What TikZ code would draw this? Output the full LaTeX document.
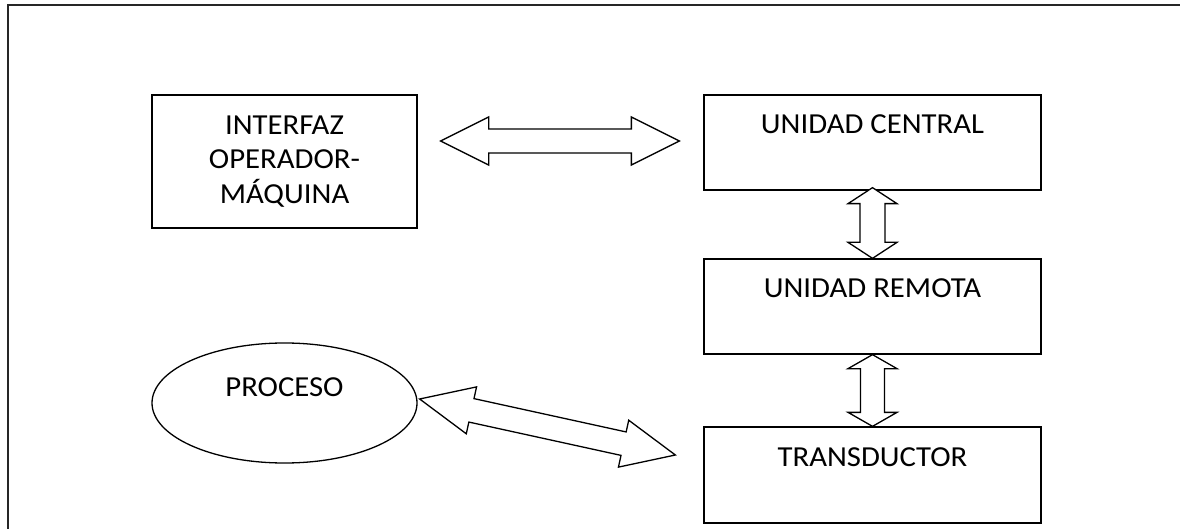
\documentclass[tikz,border=0pt]{standalone}
\usepackage{fontspec}
\setmainfont{Carlito}[FakeStretch=1.06]
\usetikzlibrary{calc,shapes.geometric}

% Double-headed block arrow between two tips:
% #1,#2 tips, #3 head length, #4 shaft half-width, #5 head half-width
\newcommand\dblblockarrow[5]{%
  \draw[blockarrow]
    (#1)
    -- ($(#1)!#3!(#2)!#5!90:(#2)$)
    -- ($(#1)!#3!(#2)!#4!90:(#2)$)
    -- ($(#2)!#3!(#1)!#4!-90:(#1)$)
    -- ($(#2)!#3!(#1)!#5!-90:(#1)$)
    -- (#2)
    -- ($(#2)!#3!(#1)!#5!90:(#1)$)
    -- ($(#2)!#3!(#1)!#4!90:(#1)$)
    -- ($(#1)!#3!(#2)!#4!-90:(#2)$)
    -- ($(#1)!#3!(#2)!#5!-90:(#2)$)
    -- cycle;}

\tikzset{
  frame/.style={draw=black!85, line width=2pt},
  block/.style={draw, line width=1.3pt, rectangle, inner sep=0pt},
  blob/.style={draw, line width=1.3pt, ellipse, inner sep=0pt},
  blockarrow/.style={draw, fill=white, line width=1.3pt, line join=miter},
  caption/.style={font=\fontsize{29}{34.5}\selectfont, inner sep=0pt, anchor=base},
}

\begin{document}
\begin{tikzpicture}[x=1pt,y=-1pt]
\useasboundingbox (0,0) rectangle (1180,529);

% outer frame (open at right and bottom)
\coordinate (fbl) at (8,540);
\coordinate (ftl) at (8,5);
\coordinate (ftr) at (1190,5);
\draw[frame] (fbl) -- (ftl) -- (ftr);

% blocks
\node[block, minimum width=265pt, minimum height=133pt, align=center,
      font=\fontsize{29}{34.5}\selectfont] (iom) at (284.5,161.5)
      {INTERFAZ\\OPERADOR-\\MÁQUINA};
\node[block, minimum width=337pt, minimum height=95pt] (uc) at (872.5,142.5) {};
\node[block, minimum width=337pt, minimum height=95pt] (ur) at (872.5,306.5) {};
\node[block, minimum width=337pt, minimum height=96pt] (tr) at (872.5,475) {};
\node[blob, minimum width=265pt, minimum height=120pt] (proc) at (284.5,403) {};

% block texts
\node[caption] (uct) at ($(uc.north)+(0,39)$) {UNIDAD CENTRAL};
\node[caption] (urt) at ($(ur.north)+(0,39)$) {UNIDAD REMOTA};
\node[caption] (trt) at ($(tr.north)+(0,40)$) {TRANSDUCTOR};
\node[caption] (proct) at ($(proc.center)+(0,-7)$) {PROCESO};

% arrow tips
\coordinate (h1) at ($(iom.east |- uc.center)+(23,-1.5)$);
\coordinate (h2) at ($(uc.west)+(-24,-1.5)$);
\coordinate (v1) at ($(uc.south)+(0,-3)$);
\coordinate (v2) at (ur.north);
\coordinate (v3) at (ur.south);
\coordinate (v4) at (tr.north);
\coordinate (d1) at ($(proc.east)+(2,-4)$);
\coordinate (d2) at ($(tr.west)+(-28,-20)$);

% block arrows
\dblblockarrow{h1}{h2}{48pt}{12pt}{24pt}
\dblblockarrow{v1}{v2}{16pt}{12.5pt}{24.5pt}
\dblblockarrow{v3}{v4}{14pt}{12pt}{24.5pt}
\dblblockarrow{d1}{d2}{53pt}{12pt}{24pt}
\end{tikzpicture}
\end{document}
